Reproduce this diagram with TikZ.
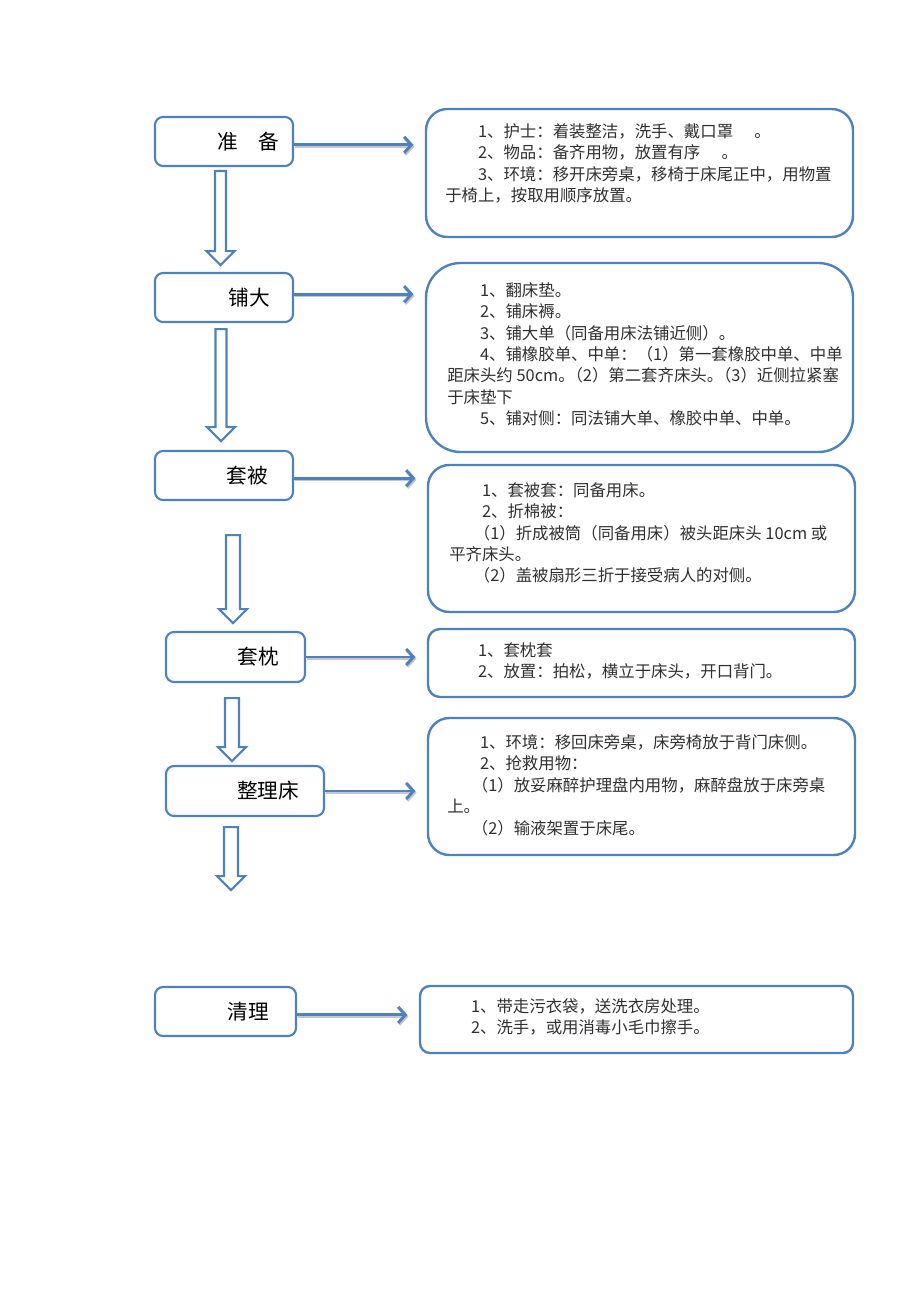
\documentclass[tikz,border=0pt]{standalone}
\usepackage{fontspec}
\setmainfont{Noto Sans CJK SC}
\usetikzlibrary{arrows.meta,calc}

\definecolor{boxblue}{HTML}{4F81BD}
\definecolor{notegray}{HTML}{303030}

\tikzset{
  stepbox/.style={draw=boxblue, line width=1.6pt, rounded corners=6pt, minimum height=36.75pt},
  steptext/.style={font=\fontsize{15.5}{18}\selectfont},
  notebox/.style={draw=boxblue, line width=1.8pt},
  notetext/.style={anchor=north west, align=left, inner sep=0pt, text=notegray, font=\fontsize{12.3}{16.1}\selectfont},
  flowarrow/.style={draw=boxblue, line width=2.2pt, shorten >=8.5pt, -{Straight Barb[length=5.5pt,width=12pt]},
    preaction={draw=black!22, line width=2.2pt, transform canvas={shift={(0.8pt,-1.3pt)}}}},
  pics/hollowarrow/.style n args={2}{code={
    \draw[boxblue, line width=1.6pt, fill=white, line join=miter]
      (-#2,0) -- (#2,0) -- (#2,#1-14) -- (14,#1-14) -- (0,#1) -- (-14,#1-14) -- (-#2,#1-14) -- cycle;}}
}

\begin{document}
\begin{tikzpicture}[x=0.75pt, y=-0.75pt]
  \useasboundingbox (0,0) rectangle (920,1302);

  % steps on the left
  \node[stepbox, minimum width=103.5pt] (prep) at (224,141.5) {};
  \node[steptext] (preplabel) at ($(prep.center)+(24,0)$) {准\hspace{1em}备};
  \node[stepbox, minimum width=103.5pt] (pave) at (224,297.5) {};
  \node[steptext] (pavelabel) at ($(pave.center)+(25,0)$) {铺大};
  \node[stepbox, minimum width=103.5pt] (cover) at (224,475.5) {};
  \node[steptext] (coverlabel) at ($(cover.center)+(23,0)$) {套被};
  \node[stepbox, minimum width=104.25pt, minimum height=37.5pt] (pillow) at (235.5,657) {};
  \node[steptext] (pillowlabel) at ($(pillow.center)+(23,0)$) {套枕};
  \node[stepbox, minimum width=118.5pt, minimum height=37.5pt] (tidy) at (245,791) {};
  \node[steptext] (tidylabel) at ($(tidy.center)+(23,0)$) {整理床};
  \node[stepbox, minimum width=105.75pt] (clean) at (225.5,1011.5) {};
  \node[steptext] (cleanlabel) at ($(clean.center)+(23,0)$) {清理};

  % notes on the right
  \node[notebox, rounded corners=16pt, minimum width=320.25pt, minimum height=96pt] (prepnote) at (639.5,173) {};
  \node[notetext] (preptext) at (445,123) {\hspace*{2em}1、护士：着装整洁，洗手、戴口罩\hspace{1.3em}。\\
    \hspace*{2em}2、物品：备齐用物，放置有序\hspace{1.3em}。\\
    \hspace*{2em}3、环境：移开床旁桌，移椅于床尾正中，用物置\\
    于椅上，按取用顺序放置。};

  \node[notebox, rounded corners=26pt, minimum width=320.25pt, minimum height=141.75pt] (pavenote) at (639.5,357.5) {};
  \node[notetext] (pavetext) at (447,282) {\hspace*{2em}1、翻床垫。\\
    \hspace*{2em}2、铺床褥。\\
    \hspace*{2em}3、铺大单（同备用床法铺近侧）。\\
    \hspace*{2em}4、铺橡胶单、中单：（1）第一套橡胶中单、中单\\
    距床头约 50cm。\hspace{-0.5em}（2）第二套齐床头。\hspace{-0.5em}（3）近侧拉紧塞\\
    于床垫下\\
    \hspace*{2em}5、铺对侧：同法铺大单、橡胶中单、中单。};

  \node[notebox, rounded corners=16pt, minimum width=320.25pt, minimum height=110.25pt] (covernote) at (641.5,538.5) {};
  \node[notetext] (covertext) at (449,482) {\hspace*{2em}1、套被套：同备用床。\\
    \hspace*{2em}2、折棉被：\\
    \hspace*{1.5em}（1）折成被筒（同备用床）被头距床头 10cm 或\\
    平齐床头。\\
    \hspace*{1.5em}（2）盖被扇形三折于接受病人的对侧。};

  \node[notebox, rounded corners=9pt, minimum width=320.25pt, minimum height=51pt] (pillownote) at (641.5,663) {};
  \node[notetext] (pillowtext) at (445,642) {\hspace*{2em}1、套枕套\\
    \hspace*{2em}2、放置：拍松，横立于床头，开口背门。};

  \node[notebox, rounded corners=16pt, minimum width=320.25pt, minimum height=102.75pt] (tidynote) at (641.5,786.5) {};
  \node[notetext] (tidytext) at (447,734) {\hspace*{2em}1、环境：移回床旁桌，床旁椅放于背门床侧。\\
    \hspace*{2em}2、抢救用物：\\
    \hspace*{1.5em}（1）放妥麻醉护理盘内用物，麻醉盘放于床旁桌\\
    上。\\
    \hspace*{1.5em}（2）输液架置于床尾。};

  \node[notebox, rounded corners=7.5pt, minimum width=324.75pt, minimum height=50.25pt] (cleannote) at (636.5,1019.5) {};
  \node[notetext] (cleantext) at (438,998) {\hspace*{2em}1、带走污衣袋，送洗衣房处理。\\
    \hspace*{2em}2、洗手，或用消毒小毛巾擦手。};

  % arrows to the notes
  \draw[flowarrow] ([yshift=-2.5pt]prep.east) -- ([yshift=-2.5pt]prep.east -| prepnote.west);
  \draw[flowarrow] ([yshift=2.5pt]pave.east) -- ([yshift=2.5pt]pave.east -| pavenote.west);
  \draw[flowarrow] ([yshift=-2pt]cover.east) -- ([yshift=-2pt]cover.east -| covernote.west);
  \draw[flowarrow] (pillow.east) -- (pillow.east -| pillownote.west);
  \draw[flowarrow] (tidy.east) -- (tidy.east -| tidynote.west);
  \draw[flowarrow] ([yshift=-2.5pt]clean.east) -- ([yshift=-2.5pt]clean.east -| cleannote.west);

  % hollow arrows between the steps
  \pic at ($(prep.south)+(-3.5,4)$) {hollowarrow={94}{5.5}};
  \pic at ($(pave.south)+(-3,6)$) {hollowarrow={112}{5.5}};
  \pic at ($(cover.south)+(9,34)$) {hollowarrow={88}{7}};
  \pic at ($(pillow.south)+(-3.5,15)$) {hollowarrow={63}{7}};
  \pic at ($(tidy.south)+(-14,10)$) {hollowarrow={63}{7}};
\end{tikzpicture}
\end{document}
